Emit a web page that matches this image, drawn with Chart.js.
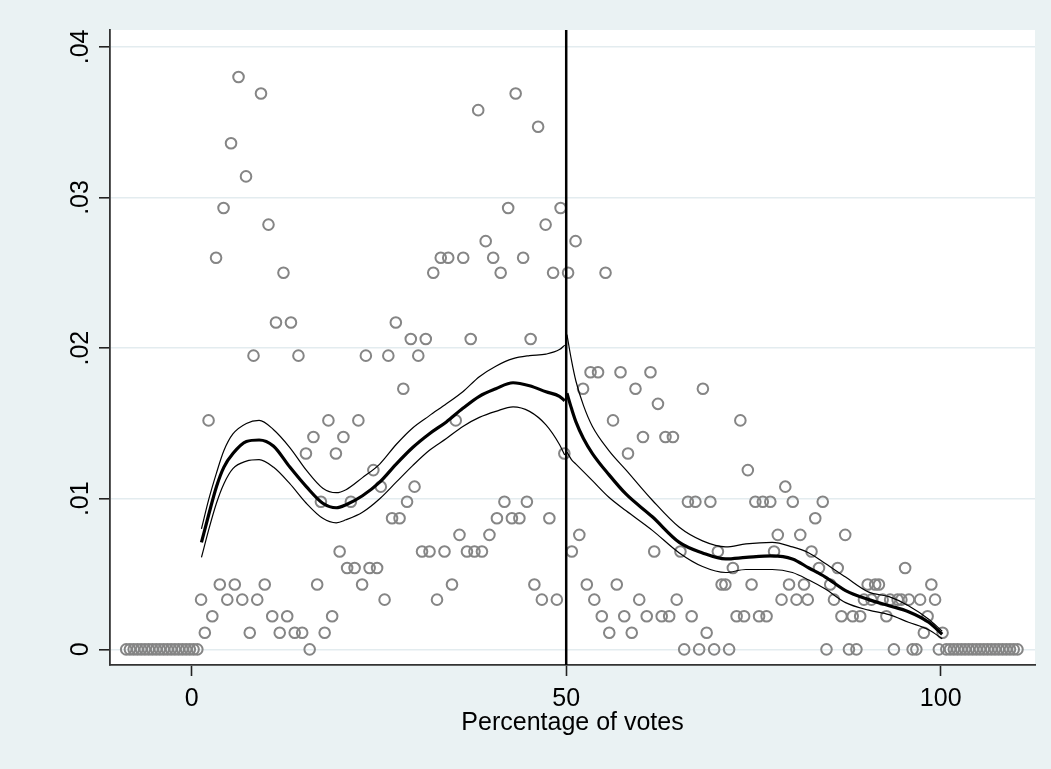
<!DOCTYPE html>
<html><head><meta charset="utf-8">
<script src="https://cdn.jsdelivr.net/npm/chart.js@4.4.1/dist/chart.umd.min.js"></script>
<style>html,body{margin:0;padding:0;background:#EAF2F3;}#wrap{width:1051px;height:769px;}</style>
</head><body><div id="wrap"><canvas id="c" width="1051" height="769"></canvas></div>
<script>
// Binned density (scatter markers)
const binX = [-8.75,-8.25,-7.75,-7.25,-6.75,-6.25,-5.75,-5.25,-4.75,-4.25,-3.75,-3.25,-2.75,-2.25,-1.75,-1.25,-0.75,-0.25,0.25,0.75,
1.25,1.75,2.25,2.75,3.25,3.75,4.25,4.75,5.25,5.75,6.25,6.75,7.25,7.75,8.25,8.75,9.25,9.75,10.25,10.75,
11.25,11.75,12.25,12.75,13.25,13.75,14.25,14.75,15.25,15.75,16.25,16.75,17.25,17.75,18.25,18.75,19.25,19.75,20.25,20.75,
21.25,21.75,22.25,22.75,23.25,23.75,24.25,24.75,25.25,25.75,26.25,26.75,27.25,27.75,28.25,28.75,29.25,29.75,30.25,30.75,
31.25,31.75,32.25,32.75,33.25,33.75,34.25,34.75,35.25,35.75,36.25,36.75,37.25,37.75,38.25,38.75,39.25,39.75,40.25,40.75,
41.25,41.75,42.25,42.75,43.25,43.75,44.25,44.75,45.25,45.75,46.25,46.75,47.25,47.75,48.25,48.75,49.25,49.75,
50.25,50.75,51.25,51.75,52.25,52.75,53.25,53.75,54.25,54.75,55.25,55.75,56.25,56.75,57.25,57.75,58.25,58.75,59.25,59.75,
60.25,60.75,61.25,61.75,62.25,62.75,63.25,63.75,64.25,64.75,65.25,65.75,66.25,66.75,67.25,67.75,68.25,68.75,69.25,69.75,
70.25,70.75,71.25,71.75,72.25,72.75,73.25,73.75,74.25,74.75,75.25,75.75,76.25,76.75,77.25,77.75,78.25,78.75,79.25,79.75,
80.25,80.75,81.25,81.75,82.25,82.75,83.25,83.75,84.25,84.75,85.25,85.75,86.25,86.75,87.25,87.75,88.25,88.75,89.25,89.75,
90.25,90.75,91.25,91.75,92.25,92.75,93.25,93.75,94.25,94.75,95.25,95.75,96.25,96.75,97.25,97.75,98.25,98.75,99.25,99.75,
100.25,100.75,101.25,101.75,102.25,102.75,103.25,103.75,104.25,104.75,105.25,105.75,106.25,106.75,107.25,107.75,108.25,108.75,109.25,109.75,110.25];
const binY = [0,0,0,0,0,0,0,0,0,0,0,0,0,0,0,0,0,0,0,0,
0.0033,0.0011,0.0152,0.0022,0.0260,0.0043,0.0293,0.0033,0.0336,0.0043,0.0380,0.0033,0.0314,0.0011,0.0195,0.0033,0.0369,0.0043,0.0282,0.0022,
0.0217,0.0011,0.0250,0.0022,0.0217,0.0011,0.0195,0.0011,0.0130,0,0.0141,0.0043,0.0098,0.0011,0.0152,0.0022,0.0130,0.0065,0.0141,0.0054,
0.0098,0.0054,0.0152,0.0043,0.0195,0.0054,0.0119,0.0054,0.0108,0.0033,0.0195,0.0087,0.0217,0.0087,0.0173,0.0098,0.0206,0.0108,0.0195,0.0065,
0.0206,0.0065,0.0250,0.0033,0.0260,0.0065,0.0260,0.0043,0.0152,0.0076,0.0260,0.0065,0.0206,0.0065,0.0358,0.0065,0.0271,0.0076,0.0260,0.0087,
0.0250,0.0098,0.0293,0.0087,0.0369,0.0087,0.0260,0.0098,0.0206,0.0043,0.0347,0.0033,0.0282,0.0087,0.0250,0.0033,0.0293,0.0130,
0.0250,0.0065,0.0271,0.0076,0.0173,0.0043,0.0184,0.0033,0.0184,0.0022,0.0250,0.0011,0.0152,0.0043,0.0184,0.0022,0.0130,0.0011,0.0173,0.0033,
0.0141,0.0022,0.0184,0.0065,0.0163,0.0022,0.0141,0.0022,0.0141,0.0033,0.0065,0,0.0098,0.0022,0.0098,0,0.0173,0.0011,0.0098,0,
0.0065,0.0043,0.0043,0,0.0054,0.0022,0.0152,0.0022,0.0119,0.0043,0.0098,0.0022,0.0098,0.0022,0.0098,0.0065,0.0076,0.0033,0.0108,0.0043,
0.0098,0.0033,0.0076,0.0043,0.0033,0.0065,0.0087,0.0054,0.0098,0,0.0043,0.0033,0.0054,0.0022,0.0076,0,0.0022,0,0.0022,0.0033,
0.0043,0.0033,0.0043,0.0043,0.0033,0.0022,0.0033,0,0.0033,0.0033,0.0054,0.0033,0,0,0.0033,0.0011,0.0022,0.0043,0.0033,0,
0.0011,0,0,0,0,0,0,0,0,0,0,0,0,0,0,0,0,0,0,0,0];

// Fitted density, left of cutoff
const fitLeftX  = [1.3,2.3,3.3,4.3,5.5,7.3,9.0,10.9,13.1,15.3,17.5,19.3,20.6,22.8,25.1,27.3,29.5,31.7,34.0,36.2,38.4,40.6,42.9,45.1,47.3,49.1,49.8];
const fitLeftY  = [0.0071,0.0090,0.0108,0.0121,0.0130,0.0138,0.0139,0.0135,0.0121,0.0108,0.0097,0.0094,0.0096,0.0102,0.0111,0.0123,0.0134,0.0143,0.0151,0.0160,0.0168,0.0173,0.0177,0.0175,0.0171,0.0168,0.0165];
const fitLeftHi = [0.0080,0.0100,0.0117,0.0132,0.0143,0.0150,0.0152,0.0146,0.0134,0.0119,0.0107,0.0104,0.0106,0.0114,0.0123,0.0136,0.0147,0.0155,0.0163,0.0171,0.0181,0.0188,0.0193,0.0195,0.0196,0.0199,0.0202];
const fitLeftLo = [0.0061,0.0080,0.0097,0.0110,0.0120,0.0125,0.0126,0.0121,0.0110,0.0097,0.0087,0.0084,0.0086,0.0091,0.0100,0.0111,0.0122,0.0132,0.0140,0.0148,0.0154,0.0158,0.0161,0.0158,0.0149,0.0136,0.0129];

// Fitted density, right of cutoff
const fitRightX  = [50.1,50.7,51.3,52.3,53.5,55.7,58.0,61.5,65.1,68.2,71.3,74.0,77.5,80.2,82.4,84.6,87.3,90.4,93.1,95.7,98.4,100.2];
const fitRightY  = [0.0170,0.0160,0.0151,0.0140,0.0130,0.0116,0.0103,0.0088,0.0071,0.0064,0.0060,0.0061,0.0062,0.0060,0.0054,0.0048,0.0039,0.0033,0.0029,0.0025,0.0018,0.0010];
const fitRightHi = [0.0209,0.0192,0.0178,0.0162,0.0148,0.0132,0.0119,0.0099,0.0081,0.0072,0.0068,0.0070,0.0071,0.0068,0.0064,0.0057,0.0048,0.0038,0.0035,0.0029,0.0020,0.0012];
const fitRightLo = [0.0131,0.0126,0.0123,0.0118,0.0112,0.0101,0.0092,0.0079,0.0064,0.0055,0.0051,0.0053,0.0053,0.0051,0.0046,0.0040,0.0031,0.0026,0.0023,0.0018,0.0013,0.0007];

const cutoff = 50;
const xTickValues = [0, 50, 100];
const xTickLabels = ["0", "50", "100"];
const yTickValues = [0, 0.01, 0.02, 0.03, 0.04];
const yTickLabels = ["0", ".01", ".02", ".03", ".04"];
const xTitle = "Percentage of votes";

const FONT = "'Liberation Sans', Arial, sans-serif";
const pts = (xs, ys) => xs.map((x, i) => ({x: x, y: ys[i]}));
const lineDs = (xs, ys, w) => ({
  data: pts(xs, ys), showLine: true, pointRadius: 0, borderColor: '#000', borderWidth: w,
  cubicInterpolationMode: 'monotone', fill: false
});

const bgPlugin = {
  id: 'bg',
  beforeDraw(chart) {
    const {ctx, chartArea: a} = chart;
    ctx.save();
    ctx.fillStyle = '#EAF2F3';
    ctx.fillRect(0, 0, chart.width, chart.height);
    ctx.fillStyle = '#FFFFFF';
    ctx.fillRect(a.left, a.top, a.right - a.left, a.bottom - a.top);
    ctx.restore();
  },
  afterDatasetsDraw(chart) {
    const {ctx, chartArea: a, scales} = chart;
    const px = scales.x.getPixelForValue(cutoff);
    ctx.save();
    ctx.strokeStyle = '#000';
    ctx.lineWidth = 2.5;
    ctx.beginPath();
    ctx.moveTo(px, a.top);
    ctx.lineTo(px, a.bottom);
    ctx.stroke();
    ctx.restore();
  }
};

new Chart(document.getElementById('c'), {
  type: 'scatter',
  data: {
    datasets: [
      lineDs(fitLeftX, fitLeftY, 3.2),
      lineDs(fitLeftX, fitLeftHi, 1.2),
      lineDs(fitLeftX, fitLeftLo, 1.2),
      lineDs(fitRightX, fitRightY, 3.2),
      lineDs(fitRightX, fitRightHi, 1.2),
      lineDs(fitRightX, fitRightLo, 1.2),
      {
        data: pts(binX, binY), showLine: false, pointRadius: 5.3, pointBorderWidth: 2,
        pointBorderColor: '#858585', pointBackgroundColor: 'rgba(0,0,0,0)', pointStyle: 'circle'
      }
    ]
  },
  options: {
    responsive: false, animation: false, devicePixelRatio: 1,
    layout: {padding: {top: 30, right: 16, bottom: 0, left: 0}},
    plugins: {legend: {display: false}, tooltip: {enabled: false}},
    scales: {
      x: {
        type: 'linear', min: -10.91, max: 112.59,
        afterBuildTicks: s => { s.ticks = xTickValues.map(v => ({value: v})); },
        afterFit: s => { s.height = 104; },
        ticks: {
          callback: v => xTickLabels[xTickValues.indexOf(v)],
          font: {family: FONT, size: 25}, color: '#000', padding: 8, maxRotation: 0, autoSkip: false
        },
        grid: {drawOnChartArea: false, drawTicks: true, tickLength: 11, tickColor: '#222', tickWidth: 1.6},
        border: {display: true, color: '#333', width: 1.8},
        title: {display: true, text: xTitle, font: {family: FONT, size: 25}, color: '#000', padding: {top: 0, bottom: 31}}
      },
      y: {
        type: 'linear', min: -0.00104, max: 0.04112,
        afterBuildTicks: s => { s.ticks = yTickValues.map(v => ({value: v})); },
        afterFit: s => { s.width = 110; },
        ticks: {
          callback: v => yTickLabels[yTickValues.indexOf(v)],
          font: {family: FONT, size: 25}, color: '#000', padding: 1, minRotation: 90, maxRotation: 90,
          crossAlign: 'center', autoSkip: false
        },
        grid: {drawOnChartArea: true, color: '#E3ECEF', lineWidth: 1.6, drawTicks: true, tickLength: 11, tickColor: '#222', tickWidth: 1.6},
        border: {display: true, color: '#333', width: 1.8}
      }
    }
  },
  plugins: [bgPlugin]
});
</script>
</body></html>
